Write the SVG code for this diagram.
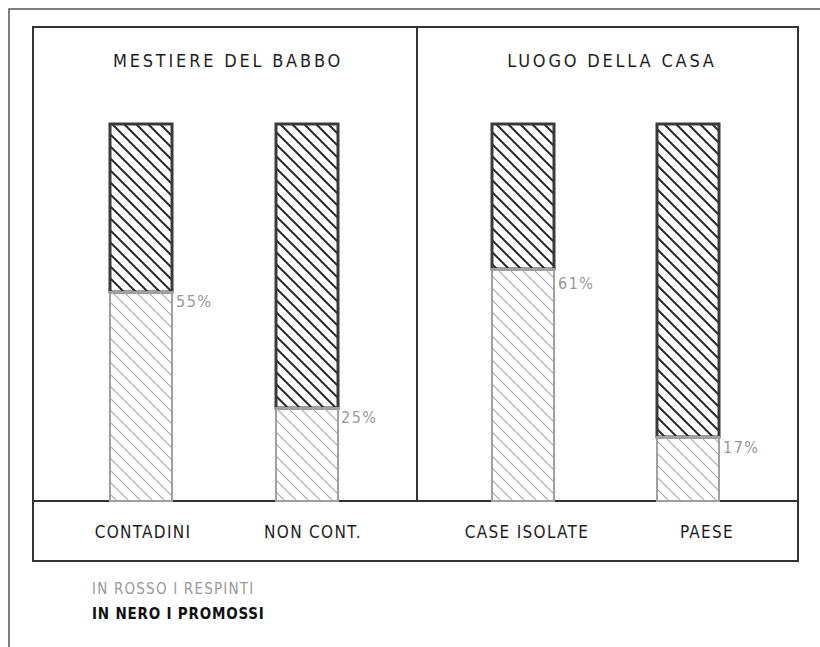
<svg xmlns="http://www.w3.org/2000/svg" width="820" height="647" viewBox="0 0 820 647">
<defs>
<pattern id="hd" width="12" height="12" patternUnits="userSpaceOnUse">
<path d="M-3,-3 L15,15 M-3,9 L3,15 M9,-3 L15,3" stroke="#2a2a2a" stroke-width="2" fill="none"/>
</pattern>
<pattern id="hl" width="12" height="12" patternUnits="userSpaceOnUse">
<path d="M-3,-3 L15,15 M-3,9 L3,15 M9,-3 L15,3" stroke="#aaaaaa" stroke-width="1.2" fill="none"/>
</pattern>
<style>
text{font-family:"DejaVu Sans Condensed","DejaVu Sans","Liberation Sans",sans-serif;}
.t{font-size:18px;fill:#1e1e1e;letter-spacing:2.8px;}
.lab{font-size:17px;fill:#1e1e1e;letter-spacing:1.3px;}
.pc{font-size:16px;fill:#999;letter-spacing:1.5px;}
.dark{fill:url(#hd);stroke:#3a3a3a;stroke-width:3;}
.light{fill:url(#hl);stroke:#a0a0a0;stroke-width:2;}
.frame{fill:none;stroke:#333;stroke-width:2;}
</style>
</defs>
<rect width="820" height="647" fill="#fff"/>
<path d="M9,647 L9,9 L820,9" fill="none" stroke="#555" stroke-width="1.5"/>
<g id="frame">
<rect class="frame" x="33" y="27" width="765" height="534"/>
<line class="frame" x1="417" y1="27" x2="417" y2="501"/>
<line class="frame" x1="33" y1="501" x2="798" y2="501"/>
</g>
<g id="titles">
<text class="t" x="228" y="67" text-anchor="middle">MESTIERE DEL BABBO</text>
<text class="t" x="612" y="67" text-anchor="middle">LUOGO DELLA CASA</text>
</g>
<g id="bar-contadini">
<rect class="dark" x="110" y="124" width="62" height="168"/>
<rect class="light" x="110" y="292" width="62" height="209"/>
<text class="pc" x="176" y="307">55%</text>
</g>
<g id="bar-noncont">
<rect class="dark" x="276" y="124" width="62" height="284"/>
<rect class="light" x="276" y="408" width="62" height="93"/>
<text class="pc" x="341" y="423">25%</text>
</g>
<g id="bar-isolate">
<rect class="dark" x="492" y="124" width="62" height="145"/>
<rect class="light" x="492" y="269" width="62" height="232"/>
<text class="pc" x="558" y="289">61%</text>
</g>
<g id="bar-paese">
<rect class="dark" x="657" y="124" width="62" height="313"/>
<rect class="light" x="657" y="437" width="62" height="64"/>
<text class="pc" x="723" y="453">17%</text>
</g>
<g id="labels">
<text class="lab" x="143" y="538" text-anchor="middle">CONTADINI</text>
<text class="lab" x="313" y="538" text-anchor="middle">NON CONT.</text>
<text class="lab" x="527" y="538" text-anchor="middle">CASE ISOLATE</text>
<text class="lab" x="707" y="538" text-anchor="middle">PAESE</text>
</g>
<g id="legend">
<text x="92" y="594" font-size="15" fill="#999" letter-spacing="1.2">IN ROSSO I RESPINTI</text>
<text x="92" y="619" font-size="15" fill="#111" font-weight="bold" letter-spacing="0.8">IN NERO I PROMOSSI</text>
</g>
</svg>
